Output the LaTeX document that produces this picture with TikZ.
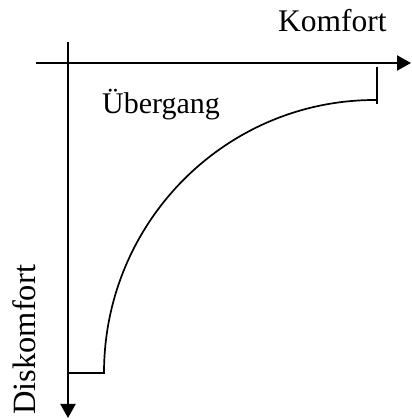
\documentclass[tikz,border=0pt]{standalone}
\usepackage{fontspec}
\setmainfont{Liberation Serif}
\usetikzlibrary{arrows.meta}

\begin{document}
\begin{tikzpicture}[
  x=1pt, y=1pt,
  axis/.style={-{Triangle[length=14pt,width=15pt]}, line width=2pt, black},
  trans/.style={line width=1.7pt, black},
  lab/.style={inner sep=0pt, text=black},
]

% frame
\useasboundingbox (0,0) rectangle (411,419);

% axis ends
\coordinate (hstart) at (36,356);
\coordinate (hend)   at (411,356);
\coordinate (vstart) at (68,377);
\coordinate (vend)   at (68,1);

% curve ends and ticks
\coordinate (lowfoot) at (68,46);
\coordinate (low)     at (104,46);
\coordinate (high)    at (377,319);
\coordinate (hightop) at (377,352);
\coordinate (highbot) at (377,315);

% axes
\draw[axis] (hstart) -- (hend);
\draw[axis] (vstart) -- (vend);

% transition curve
\draw[trans] (lowfoot) -- (low)
  arc[start angle=180, end angle=90, x radius=271, y radius=273] -- (high);
\draw[trans] (hightop) -- (highbot);

% labels
\node[lab, anchor=base west, font=\fontsize{31.5}{36}\selectfont] (komfort)
  at (278,387) {Komfort};
\node[lab, anchor=base west, font=\fontsize{30}{34}\selectfont] (uebergang)
  at (102,305) {Übergang};
\node[lab, anchor=base west, rotate=90, font=\fontsize{32.5}{38}\selectfont] (diskomfort)
  at (35,4) {Diskomfort};

\end{tikzpicture}
\end{document}
